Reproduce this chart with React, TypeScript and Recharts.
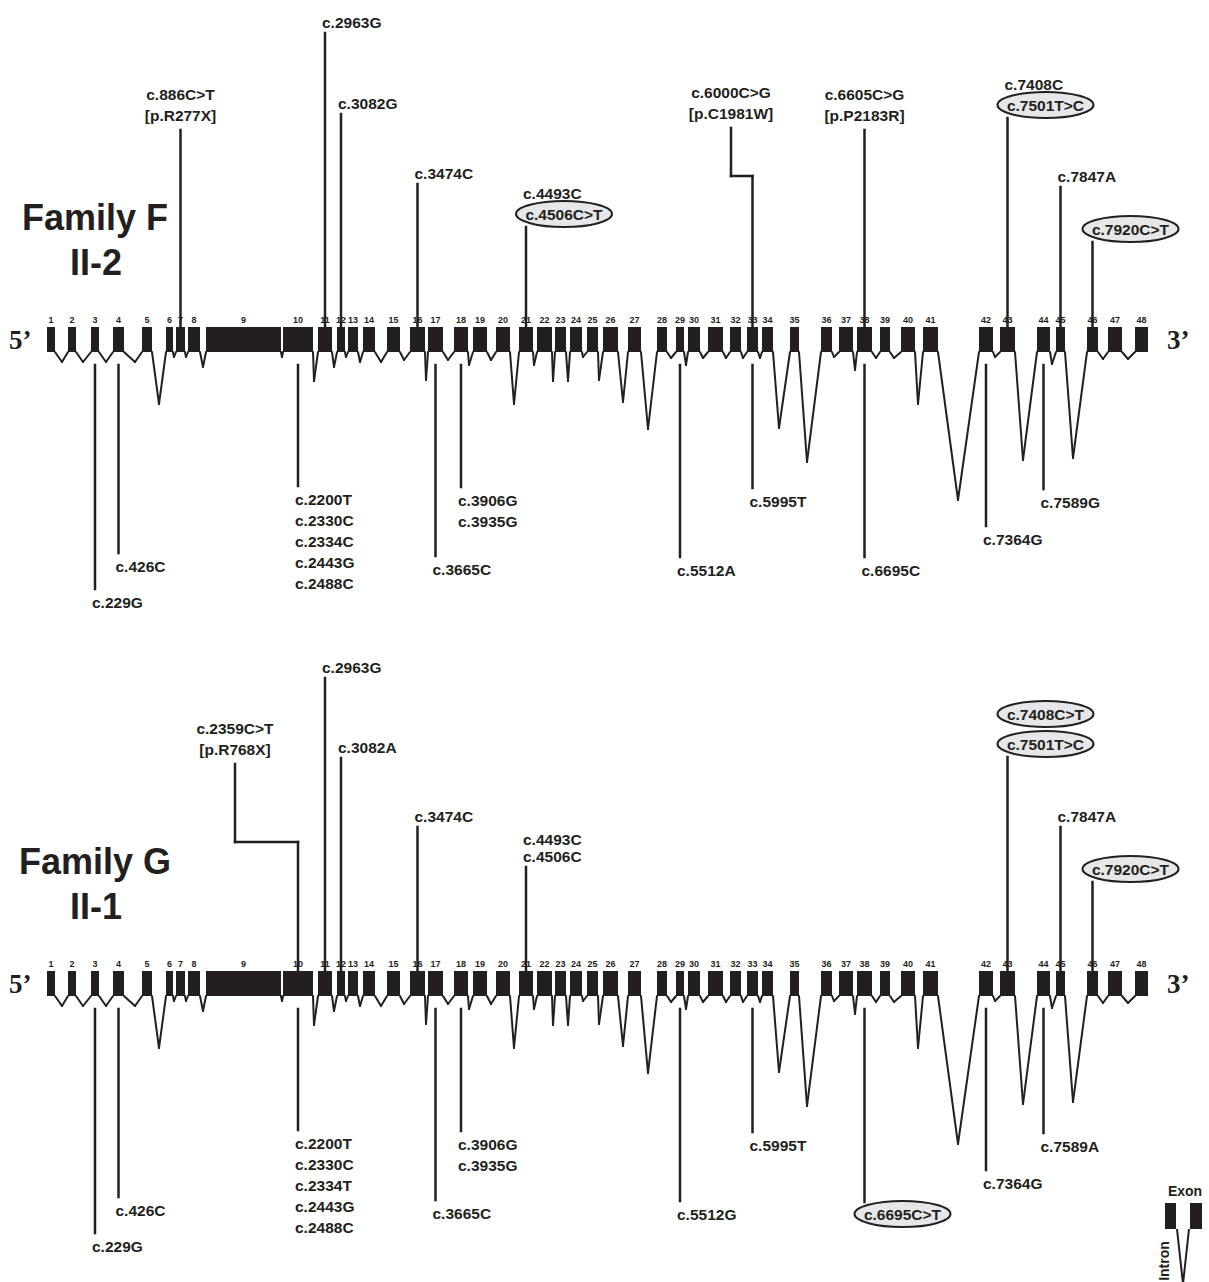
import React from "react";
import { ComposedChart, XAxis, YAxis, Scatter, ReferenceArea, ReferenceLine } from "recharts";

const INK = "#231f20";
const SHADE = "#e6e7e8";
const SANS = "'Liberation Sans', Arial, Helvetica, sans-serif";
const SERIF = "'Liberation Serif', 'Times New Roman', serif";

// track units: x along the gene, y relative to the exon baseline (exon height 25)
const TRACK_TOP = 352;
const EXON_H = 25;

const exonNumber = Array.from({ length: 48 }, (_, i) => i + 1);
const exonStart = [47, 68, 91, 113, 142, 166, 176, 188, 206, 283, 318, 337, 348, 363, 387, 410, 428, 454, 473, 496, 519, 537, 555, 570, 587, 603, 628, 657, 676, 688, 708, 730, 747, 762, 790, 821, 839, 857, 880, 901, 923, 979, 1000, 1037, 1056, 1087, 1108, 1135];
const exonEnd = [55, 76, 99, 124, 152, 173, 185, 200, 281, 313, 332, 345, 358, 375, 400, 425, 443, 468, 487, 510, 533, 552, 566, 582, 598, 618, 641, 667, 684, 700, 723, 741, 758, 773, 799, 832, 853, 872, 890, 915, 938, 993, 1015, 1050, 1065, 1098, 1122, 1148];
const intronApexX = [62, 83, 106, 135, 159, 174, 186, 203, 282, 314, 334, 346, 360, 381, 404, 426, 448, 469, 491, 514, 534, 553, 568, 583, 599, 623, 648, 671, 686, 703, 726, 743, 760, 779, 807, 834, 855, 876, 894, 918, 958, 995, 1023, 1052, 1073, 1103, 1128];
const intronDepth = [-10, -10, -10, -10, -52, -5, -5, -15, -5, -29, -15, -5, -10, -10, -8, -28, -8, -13, -8, -52, -13, -29, -29, -5, -28, -50, -77, -6, -13, -6, -6, -6, -6, -76, -110, -5, -18, -6, -6, -52, -148, -5, -108, -12, -106, -7, -7];

type Variant = {
  exon: number;
  level: number;
  labels: string[];
  boxed?: string[];
  protein?: boolean;
  elbow?: number;
  labelX?: number;
};

const familyFAbove: Variant[] = [
  { exon: 7, level: 222, labels: ["c.886C>T", "[p.R277X]"], protein: true },
  { exon: 11, level: 319, labels: ["c.2963G"] },
  { exon: 12, level: 238, labels: ["c.3082G"] },
  { exon: 16, level: 168, labels: ["c.3474C"] },
  { exon: 21, level: 125, labels: ["c.4493C", "c.4506C>T"], boxed: ["c.4506C>T"] },
  { exon: 33, level: 224, labels: ["c.6000C>G", "[p.C1981W]"], protein: true, elbow: 176, labelX: 731 },
  { exon: 38, level: 222, labels: ["c.6605C>G", "[p.P2183R]"], protein: true },
  { exon: 43, level: 234, labels: ["c.7408C", "c.7501T>C"], boxed: ["c.7501T>C"] },
  { exon: 45, level: 165, labels: ["c.7847A"] },
  { exon: 46, level: 110, labels: ["c.7920C>T"], boxed: ["c.7920C>T"] },
];

const familyFBelow: Variant[] = [
  { exon: 3, level: -237, labels: ["c.229G"] },
  { exon: 4, level: -201, labels: ["c.426C"] },
  { exon: 10, level: -134, labels: ["c.2200T", "c.2330C", "c.2334C", "c.2443G", "c.2488C"] },
  { exon: 17, level: -204, labels: ["c.3665C"] },
  { exon: 18, level: -135, labels: ["c.3906G", "c.3935G"] },
  { exon: 29, level: -205, labels: ["c.5512A"] },
  { exon: 33, level: -136, labels: ["c.5995T"] },
  { exon: 38, level: -205, labels: ["c.6695C"] },
  { exon: 42, level: -174, labels: ["c.7364G"] },
  { exon: 44, level: -137, labels: ["c.7589G"] },
];

const familyGAbove: Variant[] = [
  { exon: 10, level: 232, labels: ["c.2359C>T", "[p.R768X]"], protein: true, elbow: 154, labelX: 235 },
  { exon: 11, level: 318, labels: ["c.2963G"] },
  { exon: 12, level: 238, labels: ["c.3082A"] },
  { exon: 16, level: 169, labels: ["c.3474C"] },
  { exon: 21, level: 129, labels: ["c.4493C", "c.4506C"] },
  { exon: 43, level: 239, labels: ["c.7408C>T", "c.7501T>C"], boxed: ["c.7408C>T", "c.7501T>C"] },
  { exon: 45, level: 169, labels: ["c.7847A"] },
  { exon: 46, level: 114, labels: ["c.7920C>T"], boxed: ["c.7920C>T"] },
];

const familyGBelow: Variant[] = [
  { exon: 3, level: -237, labels: ["c.229G"] },
  { exon: 4, level: -201, labels: ["c.426C"] },
  { exon: 10, level: -134, labels: ["c.2200T", "c.2330C", "c.2334T", "c.2443G", "c.2488C"] },
  { exon: 17, level: -204, labels: ["c.3665C"] },
  { exon: 18, level: -135, labels: ["c.3906G", "c.3935G"] },
  { exon: 29, level: -205, labels: ["c.5512G"] },
  { exon: 33, level: -136, labels: ["c.5995T"] },
  { exon: 38, level: -206, labels: ["c.6695C>T"], boxed: ["c.6695C>T"] },
  { exon: 42, level: -174, labels: ["c.7364G"] },
  { exon: 44, level: -137, labels: ["c.7589A"] },
];

const exonMid = (n: number) => (exonStart[n - 1] + exonEnd[n - 1]) / 2;

type Pt = { x: number; y: number };

// each intron: from the end of one exon down to its apex and back up to the next exon
const intronSegments: [Pt, Pt][] = intronApexX.flatMap((ax, i) => [
  [{ x: exonEnd[i], y: 0 }, { x: ax, y: intronDepth[i] }],
  [{ x: ax, y: intronDepth[i] }, { x: exonStart[i + 1], y: 0 }],
] as [Pt, Pt][]);

const exonLabels = exonNumber.map((n) => ({ x: exonMid(n), y: EXON_H + 7, text: String(n) }));

function leaderSegments(v: Variant): [Pt, Pt][] {
  const x = exonMid(v.exon);
  if (v.level < 0) return [[{ x, y: -13 }, { x, y: v.level }]];
  const base = { x, y: EXON_H - 4 };
  if (v.elbow !== undefined && v.labelX !== undefined) {
    const a = { x, y: v.elbow };
    const b = { x: v.labelX, y: v.elbow };
    return [[base, a], [a, b], [b, { x: v.labelX, y: v.level }]];
  }
  return [[base, { x, y: v.level }]];
}

function labelPoints(v: Variant) {
  const x = v.labelX ?? exonMid(v.exon);
  const kind = (t: string) => (v.boxed?.includes(t) ? "box" : v.protein ? "protein" : "plain");
  const out: { x: number; y: number; text: string; kind: string }[] = [];
  let y = v.level;
  if (v.level > 0) {
    for (let i = v.labels.length - 1; i >= 0; i--) {
      const k = kind(v.labels[i]);
      if (i === v.labels.length - 1) {
        y += k === "box" ? 13 : k === "protein" ? 15 : 11;
      } else {
        const under = kind(v.labels[i + 1]);
        y += k === "box" && under === "box" ? 30 : k === "plain" && under === "plain" ? 17 : 21;
      }
      out.push({ x, y, text: v.labels[i], kind: k });
    }
  } else {
    v.labels.forEach((t, i) => {
      const k = kind(t);
      y -= i === 0 ? (k === "box" ? 12 : 13) : 21;
      out.push({ x, y, text: t, kind: k });
    });
  }
  return out;
}

const ExonNumberMark = (p: any) => (
  <text x={p.cx} y={p.cy} textAnchor="middle" dominantBaseline="central" fontFamily={SANS} fontWeight="bold" fontSize={9} fill={INK}>
    {p.payload.text}
  </text>
);

const VariantLabelMark = (p: any) => {
  const { cx, cy, payload } = p;
  const common = { fontFamily: SANS, fontWeight: "bold", fontSize: 15.5, fill: INK, dominantBaseline: "central" } as any;
  if (payload.kind === "box") {
    return (
      <g>
        <ellipse cx={cx + 38} cy={cy} rx={48} ry={13} fill={SHADE} stroke={INK} strokeWidth={2} />
        <text x={cx + 38} y={cy} textAnchor="middle" {...common}>{payload.text}</text>
      </g>
    );
  }
  if (payload.kind === "protein") {
    return <text x={cx} y={cy} textAnchor="middle" {...common}>{payload.text}</text>;
  }
  return <text x={cx - 3} y={cy} textAnchor="start" {...common}>{payload.text}</text>;
};

function Panel({ title, subject, above, below, height, legend }: { title: string; subject: string; above: Variant[]; below: Variant[]; height: number; legend?: boolean }) {
  const all = [...above, ...below];
  const labels = all.flatMap(labelPoints);
  const leaders = all.flatMap(leaderSegments);
  return (
    <div style={{ position: "relative", width: 1209, height }}>
      <ComposedChart width={1209} height={height} margin={{ top: 0, right: 0, bottom: 0, left: 0 }}>
        <XAxis type="number" dataKey="x" domain={[0, 1209]} hide allowDataOverflow />
        <YAxis type="number" dataKey="y" domain={[TRACK_TOP - height, TRACK_TOP]} hide allowDataOverflow />
        {intronSegments.map((s, i) => (
          <ReferenceLine key={"i" + i} segment={s} stroke={INK} strokeWidth={2} strokeLinecap="round" ifOverflow="visible" />
        ))}
        {exonNumber.map((n, i) => (
          <ReferenceArea key={n} x1={exonStart[i]} x2={exonEnd[i]} y1={0} y2={EXON_H} fill={INK} fillOpacity={1} stroke="none" ifOverflow="visible" />
        ))}
        {leaders.map((s, i) => (
          <ReferenceLine key={"l" + i} segment={s} stroke={INK} strokeWidth={2.5} strokeLinecap="square" ifOverflow="visible" />
        ))}
        <Scatter data={exonLabels} shape={ExonNumberMark} isAnimationActive={false} />
        <Scatter data={labels} shape={VariantLabelMark} isAnimationActive={false} />
      </ComposedChart>
      <svg width={1209} height={height} style={{ position: "absolute", left: 0, top: 0, pointerEvents: "none" }}>
        <text x={95} y={217} textAnchor="middle" dominantBaseline="central" fontFamily={SANS} fontWeight="bold" fontSize={36} fill={INK}>{title}</text>
        <text x={96} y={262} textAnchor="middle" dominantBaseline="central" fontFamily={SANS} fontWeight="bold" fontSize={36} fill={INK}>{subject}</text>
        <text x={9} y={340} dominantBaseline="central" fontFamily={SERIF} fontWeight="bold" fontSize={27} fill={INK}>5’</text>
        <text x={1167} y={340} dominantBaseline="central" fontFamily={SERIF} fontWeight="bold" fontSize={27} fill={INK}>3’</text>
        {legend && (
          <g>
            <text x={1185} y={547} textAnchor="middle" dominantBaseline="central" fontFamily={SANS} fontWeight="bold" fontSize={14} fill={INK}>Exon</text>
            <rect x={1165} y={559} width={11} height={26} fill={INK} />
            <rect x={1190} y={559} width={12} height={26} fill={INK} />
            <polyline points="1177,585 1183,640 1189,585" fill="none" stroke={INK} strokeWidth={2} />
            <text x={1164} y={617} transform="rotate(-90 1164 617)" textAnchor="middle" dominantBaseline="central" fontFamily={SANS} fontWeight="bold" fontSize={14} fill={INK}>Intron</text>
          </g>
        )}
      </svg>
    </div>
  );
}

export default function App() {
  return (
    <div style={{ position: "absolute", left: 0, top: 0, width: 1209, height: 1282, background: "#fff", overflow: "hidden" }}>
      <Panel title="Family F" subject="II-2" above={familyFAbove} below={familyFBelow} height={644} />
      <Panel title="Family G" subject="II-1" above={familyGAbove} below={familyGBelow} height={638} legend />
    </div>
  );
}
